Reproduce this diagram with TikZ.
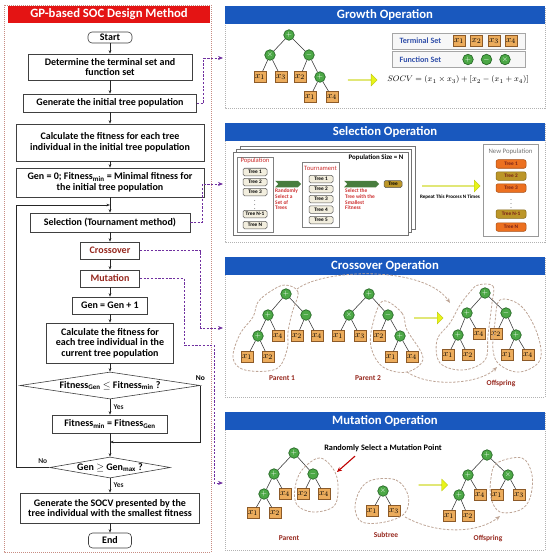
\documentclass[tikz,border=0pt]{standalone}
\usepackage{fontspec}
\setmainfont{Carlito}
\usetikzlibrary{shapes.geometric, shapes.arrows, shapes.symbols, arrows.meta, shadows}

\definecolor{hdrred}{RGB}{228,20,20}
\definecolor{hdrblue}{RGB}{25,88,190}
\definecolor{linkpurple}{RGB}{112,48,160}
\definecolor{opgreen}{RGB}{76,168,70}
\definecolor{opedge}{RGB}{40,105,40}
\definecolor{leaffill}{RGB}{236,172,92}
\definecolor{leafedge}{RGB}{140,90,40}
\definecolor{enclcol}{RGB}{190,165,150}
\definecolor{lblred}{RGB}{150,40,30}
\definecolor{txtred}{RGB}{205,45,45}
\definecolor{treefill}{RGB}{242,238,222}
\definecolor{neworange}{RGB}{236,112,32}
\definecolor{newolive}{RGB}{188,150,40}
\definecolor{yellowarr}{RGB}{232,244,24}
\definecolor{greenarr}{RGB}{72,125,62}
\definecolor{setblue}{RGB}{50,80,170}

\tikzset{
  fbox/.style={draw=black!75, fill=white, line width=0.6pt, align=center, inner sep=1pt,
    font=\fontsize{10}{10.5}\selectfont\bfseries},
  term/.style={fbox, rounded corners=4pt},
  dec/.style={fbox, diamond, aspect=6.5, inner sep=0pt},
  flow/.style={-{Stealth[length=3.5pt,width=2.6pt]}, line width=0.5pt, black!85},
  link/.style={linkpurple, line width=0.75pt, dash pattern=on 2.2pt off 1.5pt,
    -{Stealth[length=5pt,width=4pt]}},
  lbl/.style={font=\fontsize{7.5}{7.5}\selectfont\bfseries},
  panel/.style={draw=black!30, dash pattern=on 1pt off 1pt, line width=0.5pt},
  hdr/.style={fill=hdrblue, text=white, minimum width=320pt, minimum height=18pt, inner sep=0pt,
    font=\fontsize{12.7}{13}\selectfont\bfseries},
  op/.style={circle, draw=opedge, fill=opgreen, text=white, line width=0.7pt, minimum size=10.5pt,
    inner sep=0pt, font=\fontsize{7.5}{7.5}\selectfont\bfseries},
  leaf/.style={draw=leafedge, fill=leaffill, line width=0.6pt, minimum width=12pt, minimum height=11pt,
    inner sep=0pt, font=\fontsize{9.5}{9.5}\selectfont},
  branch/.style={black!80, line width=0.55pt},
  encl/.style={enclcol, line width=0.8pt, dash pattern=on 2.5pt off 1.5pt},
  enclarr/.style={encl, -{Stealth[length=5pt,width=4pt]}},
  part/.style={lblred, font=\fontsize{7.5}{7.5}\selectfont\bfseries},
  fat/.style={single arrow, fill=yellowarr, draw=yellowarr!80!black, line width=0.3pt,
    minimum width=12pt, single arrow head extend=3pt, inner sep=0pt},
  setbox/.style={draw=black!35, fill=black!3, line width=0.5pt,
    drop shadow={opacity=0.25, shadow xshift=0.8pt, shadow yshift=-0.8pt}},
  settxt/.style={setblue, font=\fontsize{8.1}{8.1}\selectfont\bfseries},
  sheet/.style={draw=black!55, fill=white, line width=0.6pt},
  group/.style={draw=black!50, fill=white, line width=0.6pt},
  grouptxt/.style={txtred, font=\fontsize{6.6}{6.6}\selectfont},
  treeitem/.style={draw=black!65, fill=treefill, rounded corners=1.5pt, line width=0.5pt,
    minimum width=24pt, minimum height=7.5pt, inner sep=0pt, font=\fontsize{5.3}{5.3}\selectfont\bfseries},
  newitem/.style={treeitem, minimum width=30pt, minimum height=8.5pt, rounded corners=2pt,
    text=lblred!80!black},
  note/.style={txtred, align=left, inner sep=0pt, anchor=north west,
    font=\fontsize{5.4}{5.6}\selectfont\bfseries},
  greenarrow/.style={signal, signal to=east, signal from=west, fill=greenarr, minimum width=26pt,
    minimum height=6.5pt, inner sep=0pt}
}

\begin{document}
\begin{tikzpicture}[x=1pt, y=-1pt]
\useasboundingbox (0,0) rectangle (550,556);

% left: flowchart
\draw[draw={rgb,255:red,200;green,140;blue,130}, dash pattern=on 1pt off 1pt, line width=0.6pt] (4,5) rectangle (211,552);
\node[fill=hdrred, text=white, minimum width=202pt, minimum height=17pt, inner sep=0pt,
  font=\fontsize{12.7}{13}\selectfont\bfseries] (mainhdr) at (109,14.5) {GP-based SOC Design Method};

\node[term, minimum width=44pt, minimum height=11pt] (start) at (110,37.5) {Start};
\node[fbox, minimum width=164pt, minimum height=26pt] (determ) at (110,67) {Determine the terminal set and\\function set};
\node[fbox, minimum width=173pt, minimum height=18pt] (geninit) at (110,103) {Generate the initial tree population};
\node[fbox, minimum width=188pt, minimum height=37pt] (calcinit) at (110,142.5) {Calculate the fitness for each tree\\individual in the initial tree population};
\node[fbox, minimum width=188pt, minimum height=29pt] (genzero) at (110,182.5) {Gen = 0; Fitness\textsubscript{min} = Minimal fitness for\\the initial tree population};
\node[fbox, minimum width=160pt, minimum height=19pt] (select) at (110,222.5) {Selection (Tournament method)};
\node[fbox, minimum width=59pt, minimum height=17pt, text=lblred] (cross) at (110,250.5) {Crossover};
\node[fbox, minimum width=59pt, minimum height=17pt, text=lblred] (mutate) at (110,278.5) {Mutation};
\node[fbox, minimum width=75pt, minimum height=17pt] (geninc) at (110,305.5) {Gen = Gen + 1};
\node[fbox, minimum width=127pt, minimum height=40pt] (calccur) at (110,343) {Calculate the fitness for\\each tree individual in the\\current tree population};
\node[dec, minimum width=180pt, minimum height=27pt] (cmpfit) at (110,385.5) {Fitness\textsubscript{Gen} $\leq$ Fitness\textsubscript{min} ?};
\node[fbox, minimum width=115pt, minimum height=18pt] (setmin) at (110,424) {Fitness\textsubscript{min} = Fitness\textsubscript{Gen}};
\coordinate (merge) at (110,442);
\node[dec, minimum width=116pt, minimum height=21pt] (cmpgen) at (110,467.5) {Gen $\geq$ Gen\textsubscript{max} ?};
\node[fbox, minimum width=179pt, minimum height=30pt] (socv) at (110,508) {Generate the SOCV presented by the\\tree individual with the smallest fitness};
\node[term, minimum width=43pt, minimum height=15pt] (finish) at (110,540.5) {End};
\coordinate (back) at (110,205);

\foreach \a/\b in {start/determ, determ/geninit, geninit/calcinit, calcinit/genzero, genzero/select,
  select/cross, cross/mutate, mutate/geninc, geninc/calccur, calccur/cmpfit, merge/cmpgen, socv/finish}
  \draw[flow] (\a) -- (\b);
\draw[flow] (cmpfit) -- node[lbl, right]{Yes} (setmin);
\draw[flow] (cmpgen) -- node[lbl, right]{Yes} (socv);
\draw[line width=0.5pt, black!85] (setmin) -- (merge);
\draw[flow] (cmpfit.east) |- (merge);
\node[lbl, above=1pt] at (cmpfit.east) {No};
\draw[flow] (cmpgen.west) -- node[lbl, above, pos=0.2]{No} (16,467.5) |- (back);

% purple links to the panels
\coordinate (growin) at (223,58);
\coordinate (selin) at (223,184);
\coordinate (crossin) at (223,328);
\coordinate (mutin) at (223,483);
\draw[link] (geninit.east) -- ++(7,0) |- (growin);
\draw[link] (select.east) -- ++(12,0) |- (selin);
\draw[link] (cross.east) -- ++(61,0) |- (crossin);
\draw[link] (mutate.east) -| (184,345) -| (214,483) -- (mutin);

% right: panels
\foreach \t/\b in {7/108, 123/242, 257/397, 412/550}
  \draw[panel] (225,\t) rectangle (545,\b);
\node[hdr] (growhdr) at (385,15.5) {Growth Operation};
\node[hdr] (selhdr) at (385,132.5) {Selection Operation};
\node[hdr] (crosshdr) at (385,266) {Crossover Operation};
\node[hdr] (muthdr) at (385,421) {Mutation Operation};

% growth
\foreach \n/\x/\y/\s in {g0/289/35/+, g1/270/55/\times, g2/309/55/-, g6/320/77/+}
  \node[op] (\n) at (\x,\y) {$\s$};
\foreach \n/\x/\y/\s in {g3/260/77/1, g4/281/77/3, g5/300/77/2, g7/310/97/1, g8/332/97/4}
  \node[leaf] (\n) at (\x,\y) {$x_{\s}$};
\foreach \a/\b in {g0/g1, g0/g2, g1/g3, g1/g4, g2/g5, g2/g6, g6/g7, g6/g8}
  \draw[branch] (\a) -- (\b);

\node[setbox, minimum width=133pt, minimum height=16pt] (tset) at (458.5,41) {};
\node[setbox, minimum width=133pt, minimum height=16pt] (fset) at (458.5,59.5) {};
\node[settxt, anchor=west] at (396,41) {Terminal Set};
\node[settxt, anchor=west] at (396,59.5) {Function Set};
\foreach \i/\x in {1/459, 2/476.5, 3/494, 4/511}
  \node[leaf] (ts\i) at (\x,41) {$x_{\i}$};
\foreach \i/\x/\s in {1/468/+, 2/486.5/-, 3/505/\times}
  \node[op] (fs\i) at (\x,59.5) {$\s$};
\node[fat, minimum height=29pt] (growarr) at (362.5,80) {};
\node[font=\fontsize{8.5}{8.5}\selectfont] (socveq) at (458,80) {$SOCV = (x_1\times x_3)+\left[x_2-(x_1+x_4)\right]$};

% selection
\foreach \d in {2,1,0}
  \draw[sheet] (233+3.5*\d,152-3*\d) rectangle (408+3.5*\d,235-3*\d);
\node[font=\fontsize{6.9}{6.9}\selectfont\bfseries] (popsize) at (376,158) {Population Size = N};
\node[group, minimum width=36pt, minimum height=75pt] (pop) at (255,194.5) {};
\node[grouptxt] at (255,161) {Population};
\foreach \i/\t/\y in {1/1/172, 2/2/182, 3/3/192, 4/N-1/214, 5/N/225}
  \node[treeitem] (pt\i) at (255,\y) {Tree \t};
\node[font=\fontsize{6}{6}\selectfont] at (255,202) {$\vdots$};
\node[greenarrow] (selarr1) at (288,184) {};
\node[note] at (275,189) {Randomly\\Select a\\Set of\\Trees};
\node[group, minimum width=37pt, minimum height=65pt] (tour) at (320.5,194.5) {};
\node[grouptxt] at (320.5,168) {Tournament};
\foreach \i/\y in {1/179, 2/189, 3/199, 4/209.5, 5/220}
  \node[treeitem] (tt\i) at (321,\y) {Tree \i};
\node[greenarrow, minimum width=35pt] (selarr2) at (361.5,184) {};
\node[note] at (345,189) {Select the\\Tree with the\\Smallest\\Fitness};
\node[treeitem, fill=newolive, minimum width=18pt, minimum height=7pt] (best) at (393,184) {Tree};
\node[fat, minimum height=58pt] (reparr) at (451,186) {};
\node[font=\fontsize{5.1}{5.1}\selectfont\bfseries] at (450,197) {Repeat This Process N Times};
\node[draw=black!40, line width=0.6pt, minimum width=55pt, minimum height=92pt] (newpop) at (510.5,190) {};
\node[black!55, font=\fontsize{6.8}{6.8}\selectfont] at (510.5,152) {New Population};
\foreach \i/\t/\y/\c in {1/1/164/neworange, 2/2/176/newolive, 3/3/188/neworange, 4/N-1/214/newolive, 5/N/227/neworange}
  \node[newitem, fill=\c, draw=\c!70!black] (nt\i) at (511,\y) {Tree \t};
\node[font=\fontsize{6}{6}\selectfont] at (511,201) {$\vdots$};

% crossover
\foreach \n/\x/\y/\s in {a0/286/294/+, a1/268/315/+, a2/306/315/-, a3/258/336/+,
  b0/369/294/+, b1/349/315/\times, b2/388/315/-, b6/400/336/+,
  c0/485/293/+, c1/467/313/+, c2/506/313/-, c3/458/335/+, c6/516/335/+}
  \node[op] (\n) at (\x,\y) {$\s$};
\foreach \n/\x/\y/\s in {a4/278/336/4, a5/297/336/2, a6/317/336/4, a7/247/357/1, a8/268/357/2,
  b3/338/336/1, b4/360/336/3, b5/379/336/2, b7/391/357/1, b8/412/357/4,
  c4/479/334/4, c5/496/334/2, c7/448/355/1, c8/468/355/2, c9/507/355/1, c10/528/355/4}
  \node[leaf] (\n) at (\x,\y) {$x_{\s}$};
\foreach \a/\b in {a0/a1, a0/a2, a1/a3, a1/a4, a2/a5, a2/a6, a3/a7, a3/a8,
  b0/b1, b0/b2, b1/b3, b1/b4, b2/b5, b2/b6, b6/b7, b6/b8,
  c0/c1, c0/c2, c1/c3, c1/c4, c2/c5, c2/c6, c3/c7, c3/c8, c6/c9, c6/c10}
  \draw[branch] (\a) -- (\b);
\draw[encl] plot[smooth cycle, tension=0.6] coordinates {(285,285) (298,292) (292,313) (288,332) (287,350)
  (276,369) (245,370) (233,358) (240,334) (253,317) (258,302) (271,291)};
\draw[encl] plot[smooth cycle, tension=0.6] coordinates {(383,301) (402,313) (407,330) (423,358)
  (407,372) (383,367) (371,347) (373,323)};
\draw[encl] plot[smooth cycle, tension=0.6] coordinates {(478,285) (493,286) (492,303) (488,335) (485,360)
  (463,370) (440,363) (437,340) (450,323) (460,305) (470,292)};
\draw[encl] plot[smooth cycle, tension=0.6] coordinates {(500,300) (521,306) (537,333) (540,360)
  (520,372) (500,365) (493,350) (495,322)};
\draw[enclarr] (297,289) .. controls (325,268) and (425,266) .. (450,303);
\draw[enclarr] (407,372) .. controls (430,388) and (480,384) .. (497,367);
\node[fat, minimum height=29pt] (crossarr) at (428.5,318) {};
\node[part] at (282,378) {Parent 1};
\node[part] at (368,378) {Parent 2};
\node[part] at (501,383) {Offspring};

% mutation
\foreach \n/\x/\y/\s in {m0/294/453/+, m1/274/474/+, m2/313/474/-, m3/264/494/+, s0/383/491/\times,
  o0/487/455/+, o1/468/475/+, o2/508/475/\times, o3/459/495/+}
  \node[op] (\n) at (\x,\y) {$\s$};
\foreach \n/\x/\y/\s in {m4/285/494/4, m5/303/494/2, m6/324/494/4, m7/253/513/1, m8/275/513/2,
  s1/372/511/1, s2/394/511/3,
  o4/480/495/4, o5/497/495/1, o6/519/495/3, o7/449/516/1, o8/468/516/2}
  \node[leaf] (\n) at (\x,\y) {$x_{\s}$};
\foreach \a/\b in {m0/m1, m0/m2, m1/m3, m1/m4, m2/m5, m2/m6, m3/m7, m3/m8, s0/s1, s0/s2,
  o0/o1, o0/o2, o1/o3, o1/o4, o2/o5, o2/o6, o3/o7, o3/o8}
  \draw[branch] (\a) -- (\b);
\draw[encl] plot[smooth cycle, tension=0.6] coordinates {(320,458) (335,472) (338,492) (333,507)
  (313,512) (297,505) (295,488) (302,470)};
\draw[encl] plot[smooth cycle, tension=0.6] coordinates {(372,480) (396,480) (408,495) (405,513)
  (385,522) (362,522) (355,508) (360,490)};
\draw[encl] plot[smooth cycle, tension=0.6] coordinates {(497,463) (522,458) (532,475) (530,498)
  (520,510) (500,512) (491,498) (491,478)};
\draw[enclarr] (405,517) .. controls (440,536) and (480,532) .. (500,516);
\node[font=\fontsize{8.3}{8.3}\selectfont\bfseries] (mptxt) at (383,448) {Randomly Select a Mutation Point};
\coordinate (mpoint) at (337,472);
\draw[-{Stealth[length=5pt,width=4.5pt]}, red!75!black, line width=1.1pt] ([xshift=-28pt,yshift=-1pt]mptxt.south) -- (mpoint);
\node[fat, minimum height=29pt] (mutarr) at (433,485) {};
\node[part] at (289,538) {Parent};
\node[part] at (386,535) {Subtree};
\node[part] at (488,538) {Offspring};
\end{tikzpicture}
\end{document}
